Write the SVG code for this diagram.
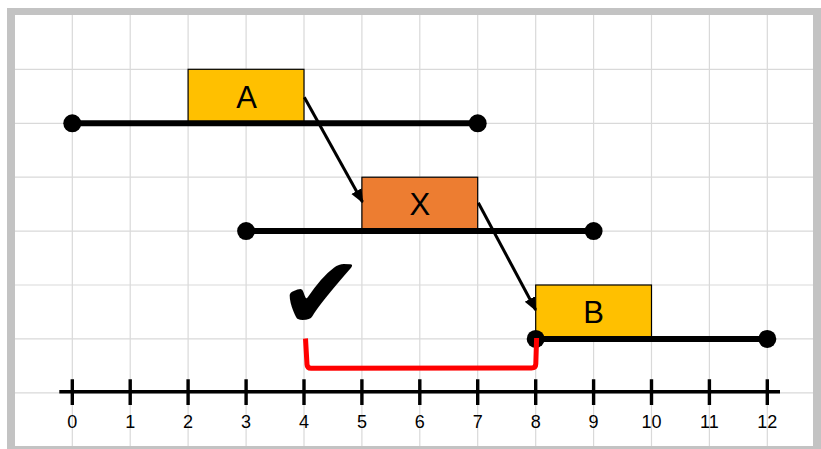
<svg xmlns="http://www.w3.org/2000/svg" width="821" height="449" viewBox="0 0 821 449">
  <style>
    .grid { stroke: #D9D9D9; stroke-width: 1.2; fill: none; }
    .bar { stroke: #000; stroke-width: 6; fill: none; }
    .dot { fill: #000; }
    .task { stroke: #000; stroke-width: 1.2; }
    .label { font-family: "Liberation Sans", Arial, sans-serif; font-size: 31px; fill: #000; text-anchor: middle; }
    .axis { stroke: #000; stroke-width: 3.4; fill: none; }
    .num { font-family: "Liberation Sans", Arial, sans-serif; font-size: 18px; fill: #000; text-anchor: middle; }
    .link { stroke: #000; stroke-width: 3; fill: none; marker-end: url(#head); }
    .slack { stroke: #FF0000; stroke-width: 5; fill: none; stroke-linejoin: round; }
  </style>
  <defs>
    <marker id="head" viewBox="0 0 10 10" refX="9" refY="5" markerWidth="4.6" markerHeight="4.6" orient="auto" markerUnits="strokeWidth">
      <path d="M0,0.8 L10,5 L0,9.2 Z" fill="#000"/>
    </marker>
  </defs>

  <!-- frame -->
  <rect x="0" y="0" width="821" height="449" fill="#fff"/>
  <rect x="7" y="8" width="814" height="448" fill="#C3C3C3"/>
  <rect x="15" y="15" width="798" height="431" fill="#fff"/>

  <!-- grid -->
  <g id="grid" class="grid">
    <path d="M72.3,15V446 M130.2,15V446 M188.1,15V446 M246.1,15V446 M304,15V446 M361.9,15V446 M419.8,15V446 M477.7,15V446 M535.7,15V446 M593.6,15V446 M651.5,15V446 M709.4,15V446 M767.3,15V446"/>
    <path d="M15,69.3H813 M15,123.3H813 M15,177.2H813 M15,231.1H813 M15,285H813 M15,338.9H813 M15,392.8H813"/>
  </g>

  <!-- task A -->
  <g id="taskA">
    <rect class="task" x="188.1" y="69.3" width="115.9" height="54" fill="#FFC000"/>
    <path class="bar" d="M72.3,123.3H477.7"/>
    <circle class="dot" cx="72.3" cy="123.3" r="9"/>
    <circle class="dot" cx="477.7" cy="123.3" r="9"/>
    <text class="label" x="246.5" y="108.3">A</text>
  </g>

  <!-- task X -->
  <g id="taskX">
    <rect class="task" x="361.9" y="177.2" width="115.8" height="54" fill="#ED7D31"/>
    <path class="bar" d="M246.1,231.1H593.6"/>
    <circle class="dot" cx="246.1" cy="231.1" r="9"/>
    <circle class="dot" cx="593.6" cy="231.1" r="9"/>
    <text class="label" x="419.8" y="215">X</text>
  </g>

  <!-- task B -->
  <g id="taskB">
    <rect class="task" x="535.7" y="285" width="115.8" height="54" fill="#FFC000"/>
    <path class="bar" d="M535.7,338.9H767.3"/>
    <circle class="dot" cx="535.7" cy="338.9" r="9"/>
    <circle class="dot" cx="767.3" cy="338.9" r="9"/>
    <text class="label" x="593.6" y="323">B</text>
  </g>

  <!-- time axis -->
  <g id="axis">
    <path class="axis" d="M59.3,391.7H780"/>
    <path class="axis" d="M72.3,379.3V405 M130.2,379.3V405 M188.1,379.3V405 M246.1,379.3V405 M304,379.3V405 M361.9,379.3V405 M419.8,379.3V405 M477.7,379.3V405 M535.7,379.3V405 M593.6,379.3V405 M651.5,379.3V405 M709.4,379.3V405 M767.3,379.3V405"/>
    <text class="num" x="72.3" y="427.5">0</text>
    <text class="num" x="130.2" y="427.5">1</text>
    <text class="num" x="188.1" y="427.5">2</text>
    <text class="num" x="246.1" y="427.5">3</text>
    <text class="num" x="304" y="427.5">4</text>
    <text class="num" x="361.9" y="427.5">5</text>
    <text class="num" x="419.8" y="427.5">6</text>
    <text class="num" x="477.7" y="427.5">7</text>
    <text class="num" x="535.7" y="427.5">8</text>
    <text class="num" x="593.6" y="427.5">9</text>
    <text class="num" x="651.5" y="427.5">10</text>
    <text class="num" x="709.4" y="427.5">11</text>
    <text class="num" x="767.3" y="427.5">12</text>
  </g>

  <!-- dependencies and slack -->
  <g id="connectors">
    <path class="link" d="M304.3,97.3L362.5,202"/>
    <path class="link" d="M478.3,202.7L535.7,310"/>
    <path class="slack" d="M305.5,338.5L307,364.5Q307.3,368.3 311,368.3L531.5,368Q535.7,368 535.8,364L536.6,338"/>
  </g>

  <!-- check mark -->
  <g id="check">
    <text x="321" y="329" font-family="DejaVu Sans, sans-serif" font-size="103" text-anchor="middle" fill="#000">✔</text>
  </g>
</svg>
